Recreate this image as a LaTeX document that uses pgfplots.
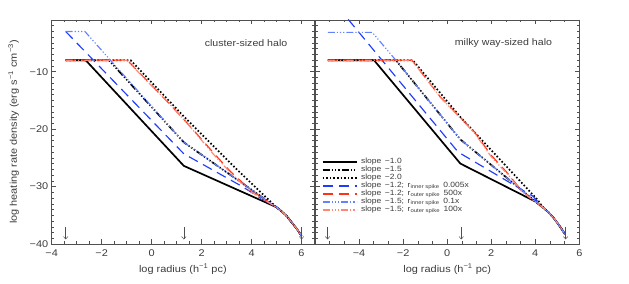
\documentclass[border=0pt]{standalone}
\usepackage{fontspec}
\setmainfont{Liberation Sans}[FakeStretch=1.12]
\usepackage{pgfplots}
\pgfplotsset{compat=1.18}
\usetikzlibrary{arrows.meta}
\definecolor{cblue}{RGB}{30,60,255}
\definecolor{cred}{RGB}{255,50,20}
\definecolor{clblue}{RGB}{100,130,255}
\definecolor{csalmon}{RGB}{255,135,115}
\definecolor{axgray}{RGB}{80,80,80}
\definecolor{txt}{RGB}{60,60,60}
\pgfplotsset{
  panel/.style={
    scale only axis, height=224bp, ymin=-40, ymax=-1,
    tick align=inside, major tick length=4.5bp, minor tick length=2.5bp,
    axis line style={axgray, line width=0.6bp},
    every tick/.style={axgray, line width=0.5bp},
    ytick={-40,-30,-20,-10}, minor ytick={-39,-38,...,-2},
    ticklabel style={font=\fontsize{9.8}{11}\selectfont, text=txt},
    xticklabel style={yshift=-2.5bp},
    label style={font=\fontsize{9.8}{11}\selectfont, text=txt},
  },
}
\tikzset{
  s10/.style={draw=black, line width=1.7bp},
  s15/.style={draw=black, line width=1.7bp, dash pattern=on 7bp off 2bp on 1.3bp off 2bp on 1.3bp off 2bp on 1.3bp off 2bp},
  s20/.style={draw=black, line width=1.7bp, dash pattern=on 1.6bp off 2bp},
  bin/.style={draw=cblue, line width=1.15bp, dash pattern=on 10bp off 6bp},
  rout/.style={draw=cred, line width=1.15bp, dash pattern=on 10bp off 6bp},
  lbin/.style={draw=clblue, line width=1.15bp, dash pattern=on 7bp off 2bp on 1.2bp off 2bp on 1.2bp off 2bp on 1.2bp off 2bp},
  srout/.style={draw=csalmon, line width=1.15bp, dash pattern=on 7bp off 2bp on 1.2bp off 2bp on 1.2bp off 2bp on 1.2bp off 2bp},
  arr/.style={draw=axgray, line width=0.5bp, -{Straight Barb[length=2.5bp,width=4.5bp]}},
}
\begin{document}
\begin{tikzpicture}
\useasboundingbox (0,0) rectangle (629bp,284bp);
% ---------------- left panel ----------------
\begin{axis}[panel, at={(51.7bp,40bp)}, anchor=south west, width=262.3bp,
  xmin=-4, xmax=6.5, xtick={-4,-2,...,6}, minor xtick={-3.5,-3,...,6.5},
  xticklabels={−4,−2,0,2,4,6}, yticklabels={−40,−30,−20,−10},
  xlabel={log radius (h\textsuperscript{−1} pc)},
  ylabel={log heating rate density (erg s\textsuperscript{−1} cm\textsuperscript{−3})},
  ylabel style={yshift=4bp}]
\addplot[s10] coordinates {(-3.44,-8) (-2.64,-8) (1.29,-26.4) (5.0,-33.6) (5.2,-34.3) (5.4,-35.1) (5.6,-36.2) (5.8,-37.3) (6.0,-38.6)};
\addplot[s15] coordinates {(-3.44,-8) (-1.71,-8) (1.29,-22.3) (5.0,-33.6) (5.2,-34.3) (5.4,-35.1) (5.6,-36.2) (5.8,-37.3) (6.0,-38.6)};
\addplot[s20] coordinates {(-3.44,-8) (-0.84,-8) (1.29,-17.8) (3.43,-27.1) (4.9,-33.2) (5.0,-33.6) (5.2,-34.3) (5.4,-35.1) (5.6,-36.2) (5.8,-37.3) (6.0,-38.6)};
\addplot[bin] coordinates {(-3.44,-3.0) (1.29,-24.3) (3.63,-30.0) (4.76,-33.1) (5.0,-33.6) (5.2,-34.3) (5.4,-35.1) (5.6,-36.2) (5.8,-37.3) (6.0,-38.6)};
\addplot[rout] coordinates {(-3.44,-8) (-0.97,-8) (0.76,-15.8) (1.56,-19.6) (2.49,-24.2) (3.16,-27.4) (3.96,-30.6) (4.76,-32.9) (5.0,-33.6) (5.2,-34.3) (5.4,-35.1) (5.6,-36.2) (5.8,-37.3) (6.0,-38.6)};
\addplot[lbin] coordinates {(-3.44,-3.0) (-2.67,-3.0) (-1.71,-7.7) (1.29,-22.3) (5.0,-33.6) (5.2,-34.3) (5.4,-35.1) (5.6,-36.2) (5.8,-37.3) (6.0,-38.6)};
\addplot[srout] coordinates {(-3.44,-8) (-1.0,-8) (0.8,-16.0) (1.6,-19.9) (2.5,-24.5) (3.2,-27.8) (4.0,-31.0) (4.8,-33.1) (5.0,-33.6) (5.2,-34.3) (5.4,-35.1) (5.6,-36.2) (5.8,-37.3) (6.0,-38.6)};
\addplot[arr] coordinates {(-3.44,-37) (-3.44,-39.2)};
\addplot[arr] coordinates {(1.29,-37) (1.29,-39.2)};
\addplot[arr] coordinates {(6.0,-37) (6.0,-39.2)};
\node[text=txt, font=\fontsize{9.5}{11}\selectfont] at (rel axis cs:0.741,0.896) {cluster-sized halo};
\end{axis}
% ---------------- right panel ----------------
\begin{axis}[panel, at={(315bp,40bp)}, anchor=south west, width=264.3bp,
  xmin=-6, xmax=6, xtick={-6,-4,...,6},
  minor xtick={-5.333,-4.667,-3.333,-2.667,-1.333,-0.667,0.667,1.333,2.667,3.333,4.667,5.333},
  xticklabels={,−4,−2,0,2,4,6}, yticklabels={},
  xlabel={log radius (h\textsuperscript{−1} pc)},
  legend image code/.code={\draw[#1, line cap=butt] (0bp,0bp) -- (34bp,0bp);},
  legend cell align=left,
  legend style={at={(rel axis cs:0.025,0.385)}, anchor=north west, draw=none, fill=none,
    font=\fontsize{7.6}{8}\selectfont, text=txt, inner sep=0pt,
    nodes={inner sep=0.6bp, text height=5.2bp, text depth=1.6bp}, column sep=3bp}]
\addlegendimage{draw=black, line width=1.7bp}
\addlegendentry{slope\, −1.0}
\addlegendimage{draw=black, line width=1.7bp, dash pattern=on 7bp off 2bp on 1.3bp off 2bp on 1.3bp off 2bp on 1.3bp off 2bp}
\addlegendentry{slope\, −1.5}
\addlegendimage{draw=black, line width=1.7bp, dash pattern=on 1.6bp off 2bp}
\addlegendentry{slope\, −2.0}
\addlegendimage{draw=cblue, line width=1.3bp, dash pattern=on 10bp off 6bp}
\addlegendentry{slope\, −1.2;\, r\textsubscript{inner spike}\, 0.005x}
\addlegendimage{draw=cred, line width=1.3bp, dash pattern=on 10bp off 6bp}
\addlegendentry{slope\, −1.2;\, r\textsubscript{outer spike}\, 500x}
\addlegendimage{draw=clblue, line width=1.3bp, dash pattern=on 7bp off 2bp on 1.2bp off 2bp on 1.2bp off 2bp on 1.2bp off 2bp}
\addlegendentry{slope\, −1.5;\, r\textsubscript{inner spike}\, 0.1x}
\addlegendimage{draw=csalmon, line width=1.3bp, dash pattern=on 7bp off 2bp on 1.2bp off 2bp on 1.2bp off 2bp on 1.2bp off 2bp}
\addlegendentry{slope\, −1.5;\, r\textsubscript{outer spike}\, 100x}
\addplot[s10, forget plot] coordinates {(-5.42,-8) (-3.32,-8) (0.6,-26.0) (4.0,-32.6) (4.2,-33.2) (4.4,-33.8) (4.6,-34.5) (4.8,-35.3) (5.0,-36.3) (5.2,-37.4) (5.35,-38.3)};
\addplot[s15, forget plot] coordinates {(-5.42,-8) (-2.33,-8) (0.6,-21.8) (4.2,-33.2) (4.4,-33.8) (4.6,-34.5) (4.8,-35.3) (5.0,-36.3) (5.2,-37.4) (5.35,-38.3)};
\addplot[s20, forget plot] coordinates {(-5.42,-8) (-1.56,-8) (0.6,-17.9) (4.13,-32.4) (4.25,-33.1) (4.4,-33.8) (4.6,-34.5) (4.8,-35.3) (5.0,-36.3) (5.2,-37.4) (5.35,-38.3)};
\addplot[bin, forget plot] coordinates {(-5.42,3.4) (0.5,-24.0) (3.9,-31.7) (4.25,-33.2) (4.4,-33.8) (4.6,-34.5) (4.8,-35.3) (5.0,-36.3) (5.2,-37.4) (5.35,-38.3)};
\addplot[rout, forget plot] coordinates {(-5.42,-8) (-1.6,-8) (-0.31,-14.4) (1.22,-20.4) (1.99,-24.5) (2.75,-27.7) (3.36,-30.6) (3.97,-32.5) (4.2,-33.2) (4.4,-33.8) (4.6,-34.5) (4.8,-35.3) (5.0,-36.3) (5.2,-37.4) (5.35,-38.3)};
\addplot[lbin, forget plot] coordinates {(-5.42,-3.15) (-3.4,-3.15) (-2.33,-8) (0.6,-21.8) (4.2,-33.2) (4.4,-33.8) (4.6,-34.5) (4.8,-35.3) (5.0,-36.3) (5.2,-37.4) (5.35,-38.3)};
\addplot[srout, forget plot] coordinates {(-5.42,-8) (-1.6,-8) (-0.3,-14.5) (1.25,-20.7) (2.0,-24.8) (2.8,-28.1) (3.4,-30.9) (4.0,-32.7) (4.2,-33.2) (4.4,-33.8) (4.6,-34.5) (4.8,-35.3) (5.0,-36.3) (5.2,-37.4) (5.35,-38.3)};
\addplot[arr, forget plot] coordinates {(-5.43,-37) (-5.43,-39.2)};
\addplot[arr, forget plot] coordinates {(0.64,-37) (0.64,-39.2)};
\addplot[arr, forget plot] coordinates {(5.38,-37) (5.38,-39.2)};
\node[text=txt, font=\fontsize{9.5}{11}\selectfont] at (rel axis cs:0.713,0.896) {milky way-sized halo};
\end{axis}
\end{tikzpicture}
\end{document}
